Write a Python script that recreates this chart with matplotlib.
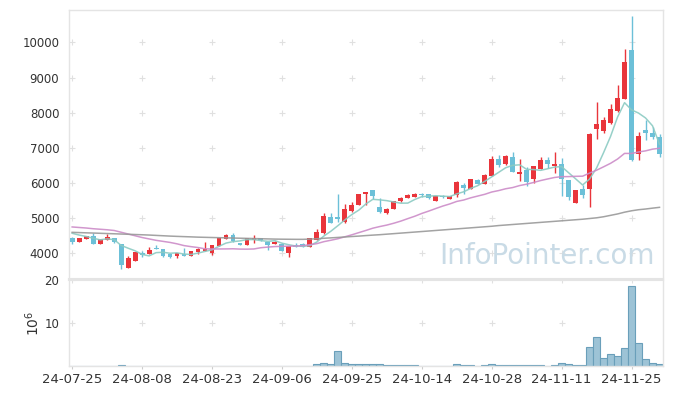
import numpy as np
import pandas as pd
import matplotlib
matplotlib.use("Agg")
from matplotlib import pyplot as plt

dates = ["24-07-25", "24-07-26", "24-07-29", "24-07-30", "24-07-31", "24-08-01", "24-08-02", "24-08-05", "24-08-06", "24-08-07",
         "24-08-08", "24-08-09", "24-08-12", "24-08-13", "24-08-14", "24-08-16", "24-08-19", "24-08-20", "24-08-21", "24-08-22",
         "24-08-23", "24-08-26", "24-08-27", "24-08-28", "24-08-29", "24-08-30", "24-09-02", "24-09-03", "24-09-04", "24-09-05",
         "24-09-06", "24-09-09", "24-09-10", "24-09-11", "24-09-12", "24-09-13", "24-09-19", "24-09-20", "24-09-23", "24-09-24",
         "24-09-25", "24-09-26", "24-09-27", "24-09-30", "24-10-02", "24-10-04", "24-10-07", "24-10-08", "24-10-10", "24-10-11",
         "24-10-14", "24-10-15", "24-10-16", "24-10-17", "24-10-18", "24-10-21", "24-10-22", "24-10-23", "24-10-24", "24-10-25",
         "24-10-28", "24-10-29", "24-10-30", "24-10-31", "24-11-01", "24-11-04", "24-11-05", "24-11-06", "24-11-07", "24-11-08",
         "24-11-11", "24-11-12", "24-11-13", "24-11-14", "24-11-15", "24-11-18", "24-11-19", "24-11-20", "24-11-21", "24-11-22",
         "24-11-25", "24-11-26", "24-11-27", "24-11-28", "24-11-29"]

opens = [4435, 4330, 4415, 4483, 4273, 4387, 4435, 4264, 3590, 3790,
         4009, 3981, 4150, 4122, 3981, 3924, 3990, 3932, 4037, 4075,
         4018, 4216, 4407, 4520, 4285, 4245, 4387, 4427, 4320, 4264,
         4264, 4000, 4245, 4264, 4188, 4378, 4569, 5023, 5023, 4890,
         5190, 5380, 5686, 5790, 5316, 5155, 5270, 5478, 5582, 5610,
         5670, 5677, 5487, 5638, 5544, 5658, 5942, 5840, 6093, 5980,
         6206, 6680, 6530, 6738, 6263, 6370, 6121, 6405, 6652, 6490,
         6530, 6085, 5440, 5828, 5828, 7543, 7486, 7714, 8055, 8396,
         9780, 6815, 7505, 7430, 7315]
highs = [4470, 4450, 4500, 4577, 4420, 4540, 4440, 4270, 3932, 4045,
         4066, 4180, 4240, 4130, 3990, 4015, 4160, 4070, 4140, 4312,
         4245, 4445, 4550, 4577, 4300, 4435, 4520, 4440, 4330, 4340,
         4300, 4215, 4300, 4300, 4435, 4700, 5140, 5137, 5686, 5393,
         5450, 5700, 5750, 5800, 5560, 5280, 5500, 5600, 5680, 5720,
         5720, 5690, 5640, 5650, 5640, 6050, 6010, 6120, 6100, 6245,
         6775, 6790, 6800, 6880, 6672, 6460, 6490, 6750, 6730, 6890,
         6710, 6090, 5800, 5940, 7430, 8293, 7870, 8236, 8776, 9808,
         10755, 7450, 7790, 7580, 7400]
lows = [4264, 4320, 4400, 4265, 4265, 4380, 4300, 3554, 3580, 3785,
        3895, 3975, 4120, 3890, 3870, 3867, 3925, 3925, 3990, 4070,
        3961, 4210, 4400, 4330, 4230, 4240, 4290, 4360, 4103, 4255,
        4065, 3905, 4180, 4180, 4180, 4370, 4560, 4860, 4900, 4870,
        5180, 5370, 5373, 5540, 5150, 5120, 5260, 5470, 5575, 5600,
        5600, 5555, 5480, 5580, 5535, 5600, 5700, 5830, 5970, 5975,
        6200, 6450, 6520, 6300, 6047, 5925, 6010, 6400, 6440, 6290,
        5630, 5525, 5420, 5570, 5307, 7240, 7430, 7670, 8010, 8380,
        6620, 6652, 7230, 7240, 6750]
closes = [4320, 4435, 4483, 4273, 4407, 4463, 4320, 3667, 3875, 4037,
          3952, 4103, 4130, 3932, 3895, 4009, 3932, 4066, 4132, 4132,
          4236, 4435, 4520, 4340, 4236, 4427, 4435, 4370, 4236, 4330,
          4075, 4207, 4188, 4188, 4427, 4605, 5052, 4871, 4975, 5250,
          5370, 5680, 5740, 5638, 5174, 5260, 5487, 5572, 5650, 5686,
          5660, 5563, 5630, 5592, 5630, 6036, 5866, 6112, 5980, 6235,
          6680, 6510, 6766, 6320, 6310, 6036, 6482, 6652, 6547, 6547,
          6104, 5610, 5790, 5667, 7391, 7675, 7790, 8103, 8415, 9439,
          6652, 7335, 7410, 7300, 6815]

# volume in millions
volumes = [0.05, 0.04, 0.05, 0.06, 0.05, 0.05, 0.06, 0.25, 0.1, 0.06,
           0.05, 0.05, 0.04, 0.05, 0.04, 0.04, 0.05, 0.04, 0.05, 0.05,
           0.05, 0.06, 0.05, 0.05, 0.04, 0.05, 0.04, 0.04, 0.05, 0.04,
           0.05, 0.06, 0.05, 0.05, 0.08, 0.35, 0.8, 0.35, 3.6, 0.8,
           0.35, 0.35, 0.35, 0.55, 0.55, 0.15, 0.15, 0.15, 0.15, 0.15,
           0.05, 0.04, 0.05, 0.04, 0.05, 0.35, 0.15, 0.15, 0.05, 0.15,
           0.4, 0.15, 0.15, 0.3, 0.3, 0.15, 0.15, 0.15, 0.05, 0.15,
           0.6, 0.4, 0.15, 0.15, 4.4, 6.8, 1.8, 2.7, 2.3, 4.1,
           18.5, 5.3, 1.6, 0.7, 0.45]

# start of the moving averages (window reaches before the first date)
ma5_head = [4570, 4520, 4480, 4430]
ma20_head = [4750, 4735, 4720, 4700, 4685, 4670, 4650, 4600, 4550, 4500,
             4450, 4410, 4370, 4340, 4310, 4270, 4220, 4190, 4165]
ma120 = [4597, 4590, 4583, 4577, 4570, 4563, 4556, 4549, 4542, 4535,
         4528, 4520, 4510, 4500, 4490, 4482, 4475, 4468, 4460, 4455,
         4450, 4445, 4440, 4435, 4430, 4425, 4420, 4415, 4410, 4405,
         4402, 4400, 4398, 4398, 4405, 4415, 4428, 4440, 4452, 4465,
         4478, 4490, 4505, 4518, 4530, 4545, 4560, 4575, 4590, 4605,
         4620, 4635, 4650, 4665, 4680, 4695, 4710, 4725, 4740, 4755,
         4770, 4790, 4805, 4820, 4835, 4850, 4865, 4880, 4895, 4910,
         4925, 4940, 4955, 4970, 4990, 5010, 5040, 5080, 5120, 5170,
         5210, 5240, 5260, 5285, 5308]

price_ticks = [4000, 5000, 6000, 7000, 8000, 9000, 10000]
vol_ticks = [10, 20]

up_col = '#e9353b'
down_col = '#6cc0d8'
spine_col = '#e4e4e4'
cross_col = '#e0e0e0'

x = np.arange(len(dates))
o = np.array(opens)
c = np.array(closes)
close_s = pd.Series(closes, dtype=float)
ma5 = close_s.rolling(5).mean().values
ma5[:4] = ma5_head
ma20 = close_s.rolling(20).mean().values
ma20[:19] = ma20_head

fig = plt.figure(figsize=(6.73, 3.96), dpi=100)
ax = fig.add_axes([69 / 673, 1 - 279 / 396, 594 / 673, 269 / 396])
axv = fig.add_axes([69 / 673, 1 - 366 / 396, 594 / 673, 86 / 396], sharex=ax)

xt = x[::10]

# grid crosses
gx, gy = np.meshgrid(xt, price_ticks)
ax.plot(gx.ravel(), gy.ravel(), '+', color=cross_col, ms=4, mew=0.8, zorder=0)
gx, gy = np.meshgrid(xt, vol_ticks)
axv.plot(gx.ravel(), gy.ravel(), '+', color=cross_col, ms=4, mew=0.8, zorder=0)

colors = np.where(c >= o, up_col, down_col)
body_low = np.minimum(o, c)
body_h = np.maximum(np.abs(c - o), 30)
ax.vlines(x, lows, highs, colors=colors, lw=1, zorder=2)
ax.bar(x, body_h, bottom=body_low, width=0.7, color=colors, zorder=3)

ax.plot(x, ma5, color='#8ccbc3', lw=1.1, alpha=0.9, zorder=4)
ax.plot(x, ma20, color='#cc8cc8', lw=1.1, alpha=0.9, zorder=4)
ax.plot(x, ma120, color='#999999', lw=1.1, alpha=0.9, zorder=4)

ax.text(0.805, 0.085, 'InfoPointer.com', transform=ax.transAxes, ha='center', va='center',
        fontsize=20, color='#c9dbe6', zorder=1)

ax.set_ylim(3270, 10920)
ax.set_yticks(price_ticks)
ax.set_yticklabels([str(t) for t in price_ticks])
ax.set_xlim(-0.45, 84.5)
ax.tick_params(axis='y', length=0, pad=7, labelsize=8.5, labelcolor='#333333')
ax.tick_params(axis='x', length=0, labelbottom=False)

axv.bar(x, volumes, width=1.0, color='#9dc3d6', edgecolor='#6a9fba', lw=0.8, zorder=2)
axv.set_ylim(0, 20)
axv.set_yticks(vol_ticks)
axv.set_yticklabels([str(t) for t in vol_ticks])
axv.set_ylabel(r'$10^6$', fontsize=10, color='#333333', labelpad=2)
axv.set_xticks(xt)
axv.set_xticklabels([dates[i] for i in xt])
axv.tick_params(axis='y', length=0, pad=7, labelsize=8.5, labelcolor='#333333')
axv.tick_params(axis='x', length=2, color='#cccccc', pad=3, labelsize=9.5, labelcolor='#333333')

for a in (ax, axv):
    for s in a.spines.values():
        s.set_color(spine_col)
        s.set_linewidth(1)
ax.spines['bottom'].set_linewidth(1.5)
axv.spines['top'].set_linewidth(1.5)

fig.savefig("out.png", dpi=100)
